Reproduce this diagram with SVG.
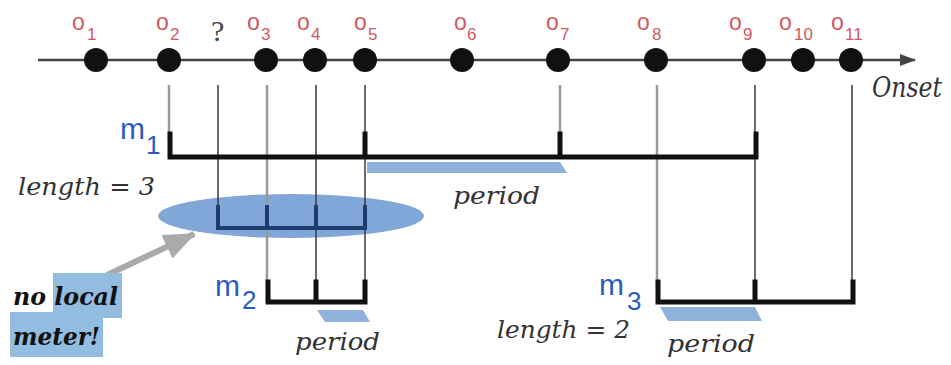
<svg xmlns="http://www.w3.org/2000/svg" width="951" height="365" viewBox="0 0 951 365">
<style>
.ol{font-family:"Liberation Sans",Arial,sans-serif;fill:#d25862;font-size:23px}
.os{font-family:"Liberation Sans",Arial,sans-serif;fill:#d25862;font-size:17px}
.ml{font-family:"Liberation Sans",Arial,sans-serif;fill:#2a5cc0;font-size:30px}
.ms{font-family:"Liberation Sans",Arial,sans-serif;fill:#2a5cc0;font-size:26px}
.it{font-family:"DejaVu Serif","Liberation Serif",serif;font-style:italic;fill:#333;font-size:24px}
.bi{font-family:"DejaVu Serif","Liberation Serif",serif;font-style:italic;font-weight:bold;fill:#111;font-size:24px}
.dot{fill:#111}
.br{fill:none;stroke:#111;stroke-width:5;stroke-linejoin:miter;stroke-linecap:square}
.brn{fill:none;stroke:#1c3d6e;stroke-width:4;stroke-linecap:square}
.vg{stroke:#9a9a9a;stroke-width:2.5;fill:none}
.vd{stroke:#3a3a3a;stroke-width:1.5;fill:none}
.per{fill:#8fb1dc}
</style>
<defs>
<marker id="ah" markerWidth="16" markerHeight="12" refX="15" refY="6" orient="auto" markerUnits="userSpaceOnUse">
<path d="M0,0 L16,6 L0,12 Z" fill="#444"/>
</marker>
<marker id="gah" markerWidth="32" markerHeight="26" refX="30" refY="13" orient="auto" markerUnits="userSpaceOnUse">
<path d="M0,0 L32,13 L0,26 Z" fill="#aaaaaa"/>
</marker>
</defs>

<g id="onset-axis">
<line x1="38" y1="60" x2="915" y2="60" stroke="#444" stroke-width="2.5" marker-end="url(#ah)"/>
<text x="872" y="97" class="it" style="font-size:27px" textLength="70" lengthAdjust="spacingAndGlyphs">Onset</text>
</g>

<g id="ellipse-group">
<ellipse cx="291" cy="216" rx="133" ry="22" fill="#80a7d8"/>
</g>

<g id="connectors">
<line class="vg" x1="169" y1="85" x2="169" y2="140"/>
<line class="vd" x1="218" y1="85" x2="218" y2="210"/>
<line class="vg" x1="267" y1="85" x2="267" y2="285"/>
<line class="vd" x1="316" y1="85" x2="316" y2="285"/>
<line class="vd" x1="365" y1="85" x2="365" y2="285"/>
<line class="vg" x1="560" y1="85" x2="560" y2="140"/>
<line class="vg" x1="657" y1="85" x2="657" y2="285"/>
<line class="vd" x1="755" y1="85" x2="755" y2="285"/>
<line class="vd" x1="852" y1="85" x2="852" y2="285"/>
<line x1="107" y1="275" x2="194" y2="234" stroke="#aaaaaa" stroke-width="6" marker-end="url(#gah)"/>
</g>

<g id="onsets">
<circle class="dot" cx="96" cy="60" r="12"/>
<circle class="dot" cx="169" cy="60" r="12"/>
<circle class="dot" cx="266" cy="60" r="12"/>
<circle class="dot" cx="315" cy="60" r="12"/>
<circle class="dot" cx="365" cy="60" r="12"/>
<circle class="dot" cx="462" cy="60" r="12"/>
<circle class="dot" cx="558" cy="60" r="12"/>
<circle class="dot" cx="656" cy="60" r="12"/>
<circle class="dot" cx="754" cy="60" r="12"/>
<circle class="dot" cx="803" cy="60" r="12"/>
<circle class="dot" cx="851" cy="60" r="12"/>
<text class="ol" x="72" y="30">o</text><text class="os" x="87" y="40">1</text>
<text class="ol" x="156" y="30">o</text><text class="os" x="170" y="40">2</text>
<text class="ol" x="247" y="30">o</text><text class="os" x="261" y="40">3</text>
<text class="ol" x="297" y="30">o</text><text class="os" x="311" y="40">4</text>
<text class="ol" x="354" y="30">o</text><text class="os" x="368" y="40">5</text>
<text class="ol" x="454" y="30">o</text><text class="os" x="467" y="40">6</text>
<text class="ol" x="546" y="30">o</text><text class="os" x="560" y="40">7</text>
<text class="ol" x="637" y="30">o</text><text class="os" x="652" y="40">8</text>
<text class="ol" x="729" y="30">o</text><text class="os" x="743" y="40">9</text>
<text class="ol" x="779" y="30">o</text><text class="os" x="794" y="40">10</text>
<text class="ol" x="831" y="30">o</text><text class="os" x="845" y="40">11</text>
<text x="211" y="41" font-family="Liberation Serif,serif" font-size="30" fill="#444">?</text>
</g>

<g id="m1">
<polygon class="per" points="367,162 560,162 567,173 367,173"/>
<path class="br" d="M170,134 V157 H756 V134 M365,134 V157 M560,134 V157"/>
<text class="ml" x="120" y="139">m</text><text class="ms" x="146" y="154">1</text>
<text class="it" x="18" y="195" textLength="137" lengthAdjust="spacingAndGlyphs">length = 3</text>
<text class="it" x="453" y="204" textLength="87" lengthAdjust="spacingAndGlyphs">period</text>
</g>

<g id="no-local-meter">
<path class="brn" d="M218,207 V228 H365 V207 M267,207 V228 M316,207 V228"/>
<polygon points="53,273 122,273 122,318 103,318 103,357 10,357 10,312 53,312" fill="#92bce0"/>
<text class="bi" x="13" y="305" textLength="105" lengthAdjust="spacingAndGlyphs">no local</text>
<text class="bi" x="13" y="345" textLength="87" lengthAdjust="spacingAndGlyphs">meter!</text>
</g>

<g id="m2">
<polygon class="per" points="317,310 363,310 370,322 325,322"/>
<path class="br" d="M268,282 V302 H365 V282 M316,282 V302"/>
<text class="ml" x="215" y="296">m</text><text class="ms" x="242" y="309">2</text>
<text class="it" x="295" y="350" textLength="85" lengthAdjust="spacingAndGlyphs">period</text>
</g>

<g id="m3">
<polygon class="per" points="660,307 755,307 762,321 668,321"/>
<path class="br" d="M658,282 V302 H853 V282 M755,282 V302"/>
<text class="ml" x="599" y="295">m</text><text class="ms" x="627" y="310">3</text>
<text class="it" x="497" y="338" textLength="133" lengthAdjust="spacingAndGlyphs">length = 2</text>
<text class="it" x="667" y="352" textLength="88" lengthAdjust="spacingAndGlyphs">period</text>
</g>
</svg>
